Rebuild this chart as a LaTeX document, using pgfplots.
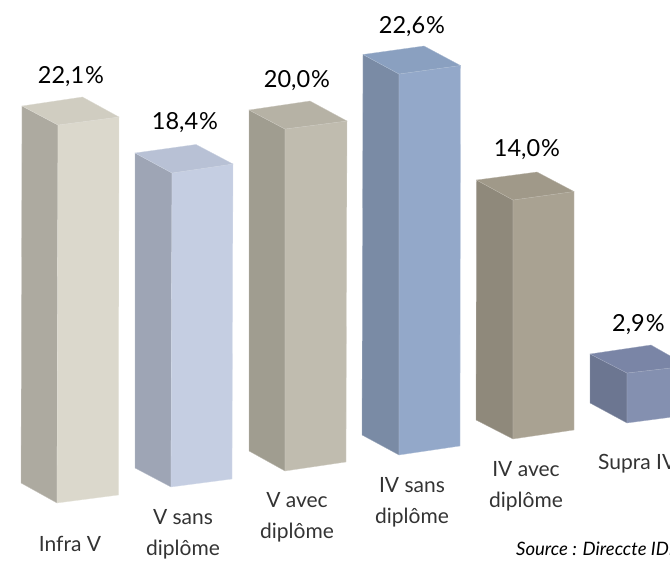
\documentclass[border=0pt]{standalone}
\usepackage{fontspec}
\setmainfont{Lato}
\usepackage{pgfplots}
\pgfplotsset{compat=1.18}
\definecolor{a1}{HTML}{DBD8CC}\definecolor{a2}{HTML}{ADAAA0}\definecolor{a3}{HTML}{D0CDC1}
\definecolor{b1}{HTML}{C5CEE2}\definecolor{b2}{HTML}{9EA5B5}\definecolor{b3}{HTML}{B8C1D5}
\definecolor{c1}{HTML}{C0BCAF}\definecolor{c2}{HTML}{A09D90}\definecolor{c3}{HTML}{B6B2A5}
\definecolor{d1}{HTML}{93A8C9}\definecolor{d2}{HTML}{7A8BA5}\definecolor{d3}{HTML}{8AA0C0}
\definecolor{e1}{HTML}{A9A292}\definecolor{e2}{HTML}{8F897B}\definecolor{e3}{HTML}{A09989}
\definecolor{f1}{HTML}{8490B0}\definecolor{f2}{HTML}{6C7691}\definecolor{f3}{HTML}{7A85A6}
\definecolor{labc}{HTML}{333333}
\newcommand{\face}[2]{\addplot[fill=#1,draw=#1!70!white,line width=0.3pt] coordinates {#2} --cycle;}
\tikzset{val/.style={font=\fontsize{23.5}{24}\selectfont,text=black,inner sep=0pt,anchor=center},
  lab/.style={font=\fontsize{21}{31}\selectfont,text=labc,inner sep=0pt,align=center,anchor=center}}
\begin{document}
\begin{tikzpicture}
\path[use as bounding box] (0,0) rectangle (670pt,561pt);
\begin{axis}[at={(0,0)},anchor=south west,width=670pt,height=561pt,scale only axis,xmin=0,xmax=670,ymin=0,ymax=561,y dir=reverse,
  axis lines=none]
% Infra V
\face{a2}{(22,106)(58,125)(57,503)(21,483)}
\face{a1}{(58,125)(119,117)(118.5,495)(57,503)}
\face{a3}{(22,106)(82.5,97)(119,117)(58,125)}
% V sans diplome
\face{b2}{(135,153)(172,173)(171,487)(135,468)}
\face{b1}{(172,173)(233,164)(232,479)(171,487)}
\face{b3}{(135,153)(196,144.5)(233,164)(172,173)}
% V avec diplome
\face{c2}{(249,110)(285,129)(285,471)(249,451)}
\face{c1}{(285,129)(347,121)(346,462)(285,471)}
\face{c3}{(249,110)(310,101)(347,121)(285,129)}
% IV sans diplome
\face{d2}{(363,54.5)(399,74)(399,455)(362,435)}
\face{d1}{(399,74)(460.5,65.5)(460,446)(399,455)}
\face{d3}{(363,54.5)(424,46)(460.5,65.5)(399,74)}
% IV avec diplome
\face{e2}{(476.5,180)(513,200)(513,439)(476,420)}
\face{e1}{(513,200)(574,191.5)(574,430)(513,439)}
\face{e3}{(476.5,180)(537,172)(574,191.5)(513,200)}
% Supra IV
\face{f2}{(590,354)(627,373)(627,423)(590,403)}
\face{f1}{(627,373)(688,366)(688,415)(627,423)}
\face{f3}{(590,354)(651,345)(688,366)(627,373)}
\node[val] at (axis cs:71,77) {22,1\kern1pt\%};
\node[val] at (axis cs:185,123) {18,4\kern1pt\%};
\node[val] at (axis cs:297,81) {20,0\kern1pt\%};
\node[val] at (axis cs:412,27) {22,6\kern1pt\%};
\node[val] at (axis cs:527,150) {14,0\kern1pt\%};
\node[val,anchor=west] at (axis cs:612,325) {2,9\kern1pt\%};
\node[lab] at (axis cs:70,544) {Infra V};
\node[lab] at (axis cs:183,534) {V sans\\diplôme};
\node[lab] at (axis cs:297,517) {V avec\\diplôme};
\node[lab] at (axis cs:412,502) {IV sans\\diplôme};
\node[lab] at (axis cs:526,486) {IV avec\\diplôme};
\node[lab,anchor=west] at (axis cs:598,464) {Supra IV};
\node[font=\fontsize{18.5}{20}\selectfont\itshape,text=black,inner sep=0pt,anchor=west] at (axis cs:516,549) {Source : Direccte IDF};
\end{axis}
\end{tikzpicture}
\end{document}
